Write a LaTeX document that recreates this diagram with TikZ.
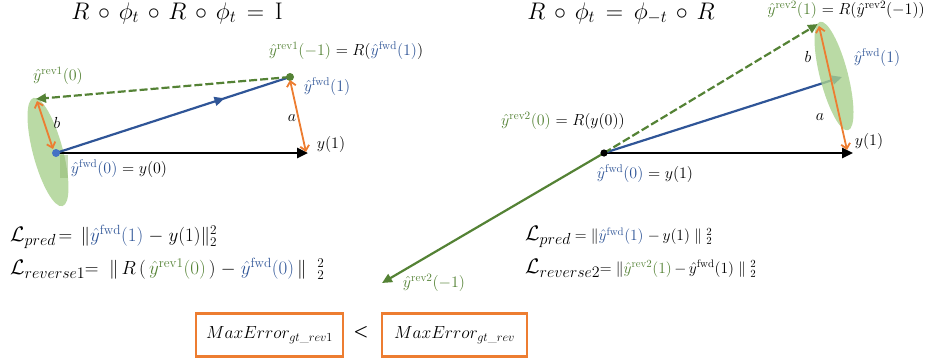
\RequirePackage{fix-cm}
\documentclass[tikz,border=0pt]{standalone}
\usepackage{amsmath,amssymb}
\usetikzlibrary{arrows.meta,decorations.markings}
\definecolor{cblue}{HTML}{2F5597}
\definecolor{cbtext}{HTML}{2F5597}
\definecolor{cgreen}{HTML}{548235}
\definecolor{corange}{HTML}{ED7D31}
\definecolor{cell}{HTML}{A9D18E}
\definecolor{cdot}{HTML}{4472C4}
\newcommand{\yfwd}[1]{\textcolor{cbtext}{$\hat{y}^{\mathrm{fwd}}(#1)$}}
\newcommand{\yrev}[2]{\textcolor{cgreen}{$\hat{y}^{\mathrm{rev#1}}(#2)$}}
\newcommand{\bigL}[1]{{\fontsize{21}{24}\selectfont$\mathcal{L}$}\raisebox{-4pt}{\fontsize{16}{19}\selectfont$#1$}}
\newcommand{\mycirc}{\mathbin{\mkern2.5mu\circ\mkern2.5mu}}
\newcommand{\myeq}{\mathrel{\mkern3mu=\mkern3mu}}
\begin{document}
\begin{tikzpicture}[x=1pt,y=-1pt,
  lbl/.style={inner sep=0pt,font=\fontsize{16}{19}\selectfont},
  ttl/.style={inner sep=0pt,anchor=base,font=\fontsize{24}{28}\selectfont},
  frm/.style={inner sep=0pt,anchor=west,font=\fontsize{19}{22}\selectfont},
  frmr/.style={inner sep=0pt,anchor=west,font=\fontsize{15.5}{19}\selectfont},
  blk/.style={line width=2.6pt,-{Triangle[length=11pt,width=10pt]}},
  blu/.style={line width=2.2pt,draw=cblue},
  grn/.style={line width=2.2pt,draw=cgreen,-{Triangle[length=10pt,width=9pt]}},
  org/.style={line width=1.8pt,draw=corange,{Straight Barb[length=5pt,width=9pt]}-{Straight Barb[length=5pt,width=9pt]}},
  ell/.style={fill=cell,fill opacity=0.8},
  ebox/.style={draw=corange,line width=2.4pt,minimum height=43pt,inner sep=0pt,font=\fontsize{17.5}{20}\selectfont}
]
\useasboundingbox (0,0) rectangle (933,362);
% ---------- left panel ----------
\node[ttl] (tl) at (177,19) {$R\mycirc\phi_t\mycirc R\mycirc\phi_t\myeq\mathrm{I}$};
\fill[ell,rotate around={15:(48,152)}] (48,152) ellipse [x radius=15,y radius=56];
\fill[cell!70!cgreen,fill opacity=0.5] (60,155) rectangle (68,178);
\coordinate (L0) at (56,153);
\coordinate (L1) at (290,77);
\coordinate (Ly) at (308,153);
\coordinate (Lr) at (36,99);
\draw[blk] (L0) -- (Ly);
\draw[blu,postaction={decorate},decoration={markings,mark=at position 0.72 with {\arrow[cblue]{Triangle[length=10pt,width=9pt]}}}] (L0) -- (L1);
\draw[grn,dashed,dash pattern=on 8pt off 3pt] (L1) -- (Lr);
\fill[cgreen] (L1) circle (4pt);
\fill[cdot] (L0) circle (4pt);
\coordinate (La1) at (290,80);
\coordinate (La2) at (306,152);
\draw[org] (La1) -- (La2);
\coordinate (Lb1) at (37,101);
\coordinate (Lb2) at (53,149);
\draw[org] (Lb1) -- (Lb2);
\node[lbl] (la) at (292,118) {$a$};
\node[lbl] (lb) at (57,123) {$b$};
\node[lbl] (lrev0) at (58,76) {\yrev{1}{0}};
\node[lbl] (lrevm) at (346,51) {\yrev{1}{-1} $=R($\yfwd{1}$)$};
\node[lbl] (lfwd1) at (327,87) {\yfwd{1}};
\node[lbl] (ly1) at (331,144) {$y(1)$};
\node[lbl] (lfwd0) at (119,169) {\yfwd{0} $=y(0)$};
\node[frm] (lf1) at (10,237) {\bigL{pred}$\,=\,\|$\yfwd{1}$\;-\;y(1)\|_2^2$};
\node[frm] (lf2) at (10,269) {\bigL{reverse1}$=\;\|\,R\,(\,$\yrev{1}{0}$\,)\;-\;$\yfwd{0}$\,\|\;\;{}^2_2$};
% ---------- right panel ----------
\node[ttl] (tr) at (621,19) {$R\mycirc\phi_t\myeq\phi_{-t}\mycirc R$};
\coordinate (R0) at (604,153);
\coordinate (Ry) at (853,153);
\coordinate (Rb) at (842,77);
\coordinate (Rg) at (818,24);
\coordinate (Rm) at (382,283);
\draw[blk] (R0) -- (Ry);
\draw[blu,-{Triangle[length=10pt,width=9pt]}] (R0) -- (Rb);
\draw[grn,dashed,dash pattern=on 8pt off 3pt] (R0) -- (Rg);
\draw[grn] (R0) -- (Rm);
\fill[ell,rotate around={14.5:(834,76)}] (834,76) ellipse [x radius=14,y radius=56];
\fill (R0) circle (3.6pt);
\coordinate (Ra1) at (819,26);
\coordinate (Ra2) at (847,150);
\draw[org] (Ra1) -- (Ra2);
\node[lbl] (rb) at (808,57) {$b$};
\node[lbl] (ra) at (820,117) {$a$};
\node[lbl] (rrev1) at (846,10) {\yrev{2}{1} $=R($\textcolor{black}{$\hat{y}^{\mathrm{rev2}}(-1)$}$)$};
\node[lbl] (rfwd1) at (877,58) {\yfwd{1}};
\node[lbl] (ry1) at (869,141) {$y(1)$};
\node[lbl] (rrev0) at (563,121) {\yrev{2}{0} $=R(y(0))$};
\node[lbl] (rfwd0) at (645,174) {\yfwd{0} $=y(1)$};
\node[lbl] (rrevm) at (434,283) {\yrev{2}{-1}};
\node[frmr] (rf1) at (525,237) {\bigL{pred}$\;=\|$\yfwd{1}$\;-\,y(1)\;\|\;{}^2_2$};
\node[frmr] (rf2) at (525,268) {\bigL{reverse2}$=\|$\yrev{2}{1}$\,-\,\hat{y}^{\mathrm{fwd}}(1)\;\|\;{}^2_2$};
% ---------- boxes ----------
\node[ebox,minimum width=147pt] (b1) at (269.5,335) {$MaxError_{gt\_rev1}$};
\node[ebox,minimum width=145pt] (b2) at (454.5,335) {$MaxError_{gt\_rev}$};
\node[inner sep=0pt,font=\sffamily\bfseries\fontsize{17}{19}\selectfont] (lt) at (361,332) {<};
\end{tikzpicture}
\end{document}
